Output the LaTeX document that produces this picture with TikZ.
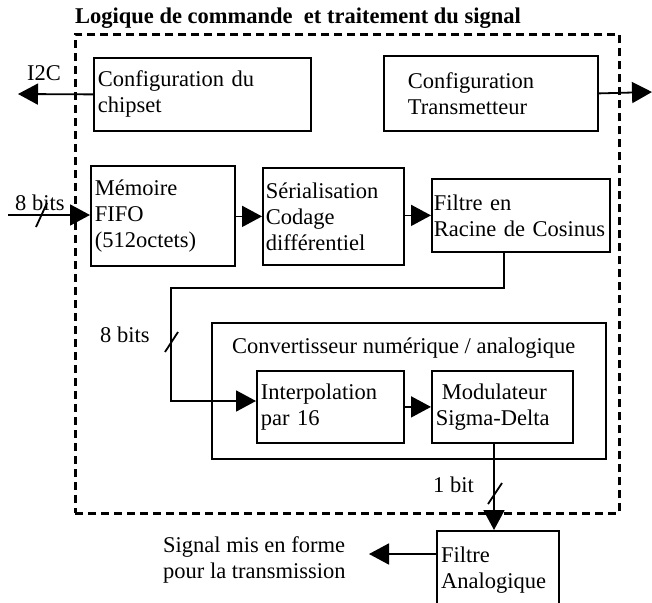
\documentclass[tikz,border=0pt]{standalone}
\usepackage{fontspec}
\setmainfont{Liberation Serif}
\usetikzlibrary{arrows.meta}
\begin{document}
\begin{tikzpicture}[x=1pt,y=-1pt,
  txt/.style={font=\fontsize{22.5}{26}\selectfont},
  box/.style={txt, draw, line width=1.8pt, inner ysep=0pt, inner xsep=4pt, align=left, anchor=north west},
  lbl/.style={txt, inner sep=0pt, anchor=base west},
  arr/.style={line width=1.8pt, -{Triangle[length=20pt,width=21pt]}},
  wire/.style={line width=1.8pt},
  slash/.style={line width=1.8pt},
  outer/.style={draw, line width=2.6pt, dash pattern=on 8pt off 5pt, anchor=north west, inner sep=0pt},
]
\clip (0,0) rectangle (652,602);
% outer dashed frame
\node[outer, minimum width=544pt, minimum height=479pt] (frame) at (74,33) {};
\node[lbl, font=\fontsize{22.5}{26}\selectfont\bfseries] (title) at (75,24) {Logique de commande\ \ et traitement du signal};

% boxes
\node[box, minimum width=217pt, minimum height=73pt, text width=209pt] (cfgc) at (93,57) {Configuration du\\chipset};
\node[box, minimum width=214pt, minimum height=75pt, inner xsep=24pt, text width=166pt] (cfgt) at (383,55) {Configuration\\Transmetteur};
\node[box, minimum width=144pt, minimum height=100pt, text width=136pt] (fifo) at (90,165) {Mémoire\\FIFO\\(512octets)};
\node[box, minimum width=141pt, minimum height=97pt, text width=135pt, inner xsep=3pt] (ser) at (262,167) {Sérialisation\\Codage\\différentiel};
\node[box, minimum width=178pt, minimum height=73pt, text width=174pt, inner xsep=2pt] (rac) at (431,178) {Filtre en\\Racine de Cosinus};
\node[box, minimum width=394pt, minimum height=136pt] (cna) at (211,322) {};
\node[lbl] (cnatxt) at (232,353) {Convertisseur numérique / analogique};
\node[box, minimum width=147pt, minimum height=72pt, text width=139pt] (interp) at (256,370) {Interpolation\\par 16};
\node[box, minimum width=141pt, minimum height=72pt, text width=133pt] (mod) at (431,370) {\hspace{6pt}Modulateur\\Sigma-Delta};
\node[box, minimum width=122pt, minimum height=120pt] (fa) at (436,530) {};
\node[txt, inner sep=0pt, anchor=north west, align=left] (fatxt) at (441,547) {Filtre\\Analogique};

% labels
\node[lbl] (i2c) at (27,80) {I2C};
\node[lbl] (b8a) at (15,210) {8 bits};
\node[lbl] (b8b) at (100,342) {8 bits};
\node[lbl] (b1) at (433,492) {1 bit};
\node[txt, inner sep=0pt, anchor=north west, align=left] (sig) at (163,536) {Signal mis en forme\\pour la transmission};

% coordinates
\coordinate (i2cend) at (18,94);
\coordinate (txend) at (652,92);
\coordinate (inst) at (8,215);
\coordinate (r1) at (504,288);
\coordinate (r2) at (171,288);
\coordinate (r3) at (171,401);
\coordinate (m1) at (494,0);
\coordinate (f1) at (369,554);

% connectors
\draw[arr] (cfgc.west) -- (i2cend);
\draw[arr] (cfgt.east) -- (txend);
\draw[arr] (inst) -- (inst -| fifo.west);
\draw[arr] (fifo.east |- ser.west) -- (ser.west);
\draw[arr] (ser.east |- rac.west) -- (rac.west);
\draw[arr] (rac.south -| r1) -- (r1) -- (r2) -- (r3) -- (r3 -| interp.west);
\draw[arr] (interp.east) -- (interp.east -| mod.west);
\draw[arr] (mod.south -| m1) -- (fa.north -| m1);
\draw[arr] (f1 -| fa.west) -- (f1);

% bus slashes
\coordinate (s1a) at (36,227); \coordinate (s1b) at (47,203);
\coordinate (s2a) at (165,352); \coordinate (s2b) at (178,332);
\coordinate (s3a) at (488,504); \coordinate (s3b) at (502,483);
\draw[slash] (s1a) -- (s1b);
\draw[slash] (s2a) -- (s2b);
\draw[slash] (s3a) -- (s3b);
\end{tikzpicture}
\end{document}
